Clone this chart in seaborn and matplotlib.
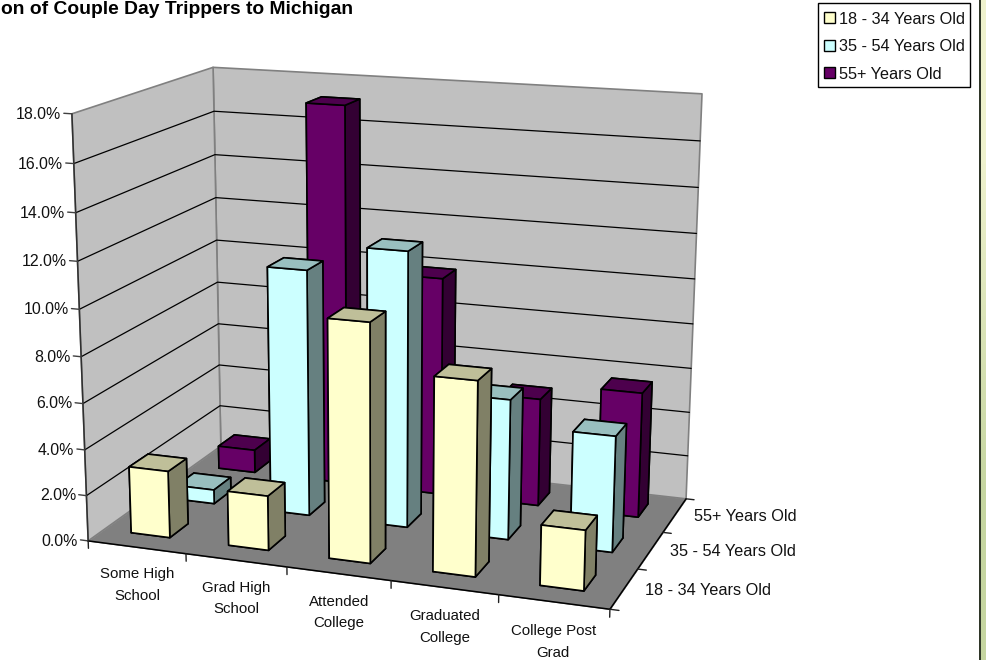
import numpy as np
import matplotlib
matplotlib.use('Agg')
import matplotlib.pyplot as plt
import seaborn as sns
from matplotlib.patches import Patch, Rectangle
from mpl_toolkits.mplot3d.art3d import Poly3DCollection

# Data
categories = ['Some High\nSchool', 'Grad High\nSchool', 'Attended\nCollege', 'Graduated\nCollege', 'College Post\nGrad']
series_names = ['18 - 34 Years Old', '35 - 54 Years Old', '55+ Years Old']
age_18_34 = [2.93, 2.37, 10.16, 8.2, 2.54]
age_35_54 = [0.63, 10.88, 12.05, 6.12, 5.03]
age_55_up = [1.06, 17.15, 9.85, 4.85, 5.58]
series_values = [age_18_34, age_35_54, age_55_up]
value_ticks = [0, 2, 4, 6, 8, 10, 12, 14, 16, 18]
title = 'on of Couple Day Trippers to Michigan'

W, H = 986, 660
X_MAX, Y_MAX, Z_MAX = len(categories), len(series_names), value_ticks[-1]
TEXT = '#111111'

sns.set_style('white')
plt.rcParams['font.family'] = ['Liberation Sans', 'DejaVu Sans']
plt.rcParams['font.size'] = 11.7

front_colors = sns.color_palette(['#FFFFCC', '#CCFFFF', '#660066'])
top_colors = [tuple(c * 0.75 for c in col) for col in front_colors]
side_colors = [tuple(c * 0.5 for c in col) for col in front_colors]

# Box corners of the plot in the picture, used to fit the camera
box_world = [(0, 0, 0), (X_MAX, 0, 0), (X_MAX, Y_MAX, 0), (0, Y_MAX, 0),
             (0, Y_MAX, Z_MAX), (X_MAX, Y_MAX, Z_MAX), (0, 0, Z_MAX)]
box_pixel = [(88, 540), (610, 610), (686, 498), (221, 447),
             (213, 67), (702, 94), (72, 114)]


def fit_camera(world, pixel):
    rows = []
    for (x, y, z), (u, v) in zip(world, pixel):
        rows.append([x, y, z, 1, 0, 0, 0, 0, -u * x, -u * y, -u * z, -u])
        rows.append([0, 0, 0, 0, x, y, z, 1, -v * x, -v * y, -v * z, -v])
    p = np.linalg.svd(np.array(rows, dtype=float))[2][-1].reshape(3, 4)
    if p[2] @ np.array([0, 0, 0, 1]) < 0:
        p = -p
    return p


camera = fit_camera(box_world, box_pixel)

fig = plt.figure(figsize=(W / 100, H / 100), dpi=100)
# square axes, taller than the figure, so the whole picture is inside it
ax = fig.add_axes([0, 0, 1, W / H], projection='3d')
ax.set_xticks([])
ax.set_yticks([])
ax.set_zticks([])
ax.set_axis_off()
ax.computed_zorder = False


def picture_proj():
    flip = np.array([[1, 0, 0], [0, -1, H], [0, 0, 1]], dtype=float)
    p = ax.transData.inverted().get_matrix() @ flip @ camera
    return np.array([p[0], p[1], [0, 0, 0, -1], p[2]])


ax.get_proj = picture_proj


def label(x, y, z, s, **kwargs):
    u, v, w = camera @ np.array([x, y, z, 1.0])
    fig.text(u / w / W, 1 - v / w / H, s, color=TEXT, **kwargs)


# Walls and floor
left_wall = [(0, 0, 0), (0, Y_MAX, 0), (0, Y_MAX, Z_MAX), (0, 0, Z_MAX)]
back_wall = [(0, Y_MAX, 0), (X_MAX, Y_MAX, 0), (X_MAX, Y_MAX, Z_MAX), (0, Y_MAX, Z_MAX)]
floor = [(0, 0, 0), (X_MAX, 0, 0), (X_MAX, Y_MAX, 0), (0, Y_MAX, 0)]
walls = Poly3DCollection([left_wall, back_wall], facecolors='#C0C0C0', edgecolors='#808080', linewidths=1.2, zorder=1)
ax.add_collection3d(walls, autolim=False)
ground = Poly3DCollection([floor], facecolors='#808080', edgecolors='#808080', linewidths=0.5, zorder=2)
ax.add_collection3d(ground, autolim=False)

for v in value_ticks[1:-1]:
    ax.plot([0, 0, X_MAX], [0, Y_MAX, Y_MAX], [v, v, v], color='black', lw=0.9, zorder=3)

# Axis lines and ticks
ax.plot([0, 0], [0, 0], [0, Z_MAX], color='#303030', lw=1.1, zorder=4)
ax.plot([0, X_MAX], [0, 0], [0, 0], color='black', lw=1.1, zorder=4)
ax.plot([X_MAX, X_MAX], [0, Y_MAX], [0, 0], color='black', lw=1.1, zorder=4)
for v in value_ticks:
    ax.plot([-0.08, 0], [0, 0], [v, v], color='#404040', lw=1, zorder=4)
    label(-0.105, 0, v, f'{v:.1f}%', ha='right', va='center_baseline', fontsize=11.4)
for i in range(X_MAX + 1):
    ax.plot([i, i], [0, 0], [-0.33, 0], color='#202020', lw=1, zorder=4)
for j in range(Y_MAX + 1):
    ax.plot([X_MAX, X_MAX + 0.08], [j, j], [0, 0], color='#202020', lw=1, zorder=4)

for i, name in enumerate(categories):
    label(i + 0.5, 0, -0.87 - 0.015 * i, name, ha='center', va='top', linespacing=1.7, fontsize=10.8)
for j, name in enumerate(series_names):
    label(X_MAX + 0.18, j + 0.53, 0, name, ha='left', va='center')

# Bars, back series first
for j in reversed(range(Y_MAX)):
    for i, value in enumerate(series_values[j]):
        # faces: bottom, top, front, back, left, right
        faces = [side_colors[j], top_colors[j], front_colors[j], front_colors[j], side_colors[j], side_colors[j]]
        bar = ax.bar3d([i + 0.28], [j + 0.33], [0], 0.4, 0.4, value, color=faces, shade=False,
                       edgecolor='black', linewidth=1.2)
        bar.set_zorder(10 + (Y_MAX - j) * 10 + i)

fig.text(353 / W, 1 - 13.5 / H, title, ha='right', va='baseline', fontweight='bold', fontsize=13.9, color='black')

# Legend box, with the entries placed inside it
fig.add_artist(Rectangle((818 / W, 1 - 87 / H), 152 / W, 84 / H, transform=fig.transFigure,
                         facecolor='white', edgecolor='black', linewidth=1))
handles = [Patch(facecolor=c, edgecolor='black', linewidth=1) for c in front_colors]
legend = fig.legend(handles, series_names, loc='upper left', bbox_to_anchor=(824 / W, 1 - 11.5 / H), borderaxespad=0,
                    frameon=False, handlelength=0.68, handleheight=0.68, handletextpad=0.25,
                    labelspacing=0.77, borderpad=0, fontsize=11.7, labelcolor=TEXT)

# Page edge on the right
strip = fig.add_axes([981 / W, 0, 5 / W, 1])
strip.imshow(np.array([[[238, 241, 205]], [[197, 213, 160]]], dtype=np.uint8), aspect='auto', interpolation='bilinear')
strip.set_xticks([])
strip.set_yticks([])
strip.set_axis_off()
fig.add_artist(Rectangle((979 / W, 0), 2 / W, 1, transform=fig.transFigure, facecolor='#2F3628', edgecolor='none'))

fig.savefig('out.png', dpi=100)
